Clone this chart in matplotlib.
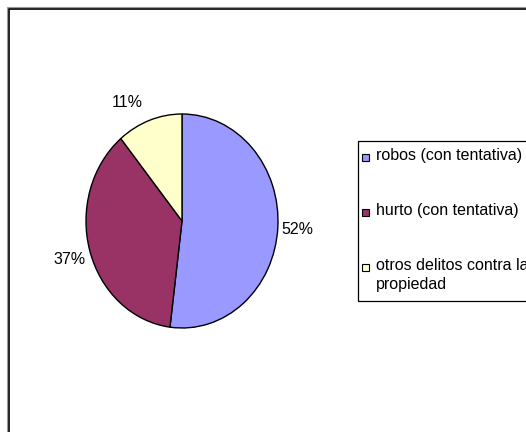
import numpy as np
import matplotlib
matplotlib.use("Agg")
import matplotlib.pyplot as plt
from matplotlib.patches import Rectangle

# ---- data ------------------------------------------------------------------
categories = ["robos (con tentativa)", "hurto (con tentativa)",
              "otros delitos contra la\npropiedad"]
shares = [52, 37, 11]
colors = ["#9999FF", "#993366", "#FFFFCC"]

plt.rcParams["font.family"] = ["Liberation Sans", "DejaVu Sans"]

W, H = 526, 432
fig = plt.figure(figsize=(W / 100, H / 100), dpi=100)
fig.patch.set_facecolor("white")


def px(x, y):
    """pixel (from top-left) -> figure fraction"""
    return x / W, 1 - y / H


# outer chart-area frame (only top and left edges fall inside the canvas)
fig.add_artist(Rectangle(px(7.2, 500), 2.0, (500 - 7.2) / H, transform=fig.transFigure,
                         fill=False, ec="#9a9a9a", lw=0.8))
fig.add_artist(Rectangle(px(8.6, 500), 2.0, (500 - 8.6) / H, transform=fig.transFigure,
                         fill=False, ec="black", lw=1.2))

# pie: slightly taller than wide, centred on (182, 221) px
cx, cy, rx, ry = 182, 221, 96, 107
span = 1.3
ax = fig.add_axes([(cx - span * rx) / W, (H - cy - span * ry) / H,
                   2 * span * rx / W, 2 * span * ry / H])
wedges, _ = ax.pie(shares, colors=colors, startangle=90, counterclock=False,
                   wedgeprops=dict(edgecolor="black", linewidth=1.0))
ax.set_aspect("auto")
ax.set_xlim(-span, span)
ax.set_ylim(-span, span)
ax.axis("off")

# percentage labels just outside each wedge
dist = [1.04, 1.05, 1.10]
for w, v, d in zip(wedges, shares, dist):
    ang = np.deg2rad((w.theta1 + w.theta2) / 2)
    c, s = np.cos(ang), np.sin(ang)
    ha = "left" if c > 0 else "right"
    va = "top" if s < -0.2 else ("bottom" if s > 0.2 else "center_baseline")
    ax.text(d * c - (0.04 if s > 0.2 else 0), d * s, f"{v}%", ha=ha, va=va,
            fontsize=11.5, color="black")

# legend box, running off the right edge of the canvas
fig.add_artist(Rectangle(px(358, 301), 1.0, (301 - 141) / H, transform=fig.transFigure,
                         fill=False, ec="black", lw=0.9))
sq = 7
for i, (lab, c) in enumerate(zip(categories, colors)):
    yc = 157 + 55 * i
    fig.add_artist(Rectangle(px(362, yc + sq / 2), sq / W, sq / H,
                             transform=fig.transFigure, fc=c, ec="black", lw=0.8))
    fig.text(*px(376, yc - 9), lab, ha="left", va="top", fontsize=11.5,
             linespacing=1.3, color="black")

fig.savefig("out.png", dpi=100, facecolor="white")
